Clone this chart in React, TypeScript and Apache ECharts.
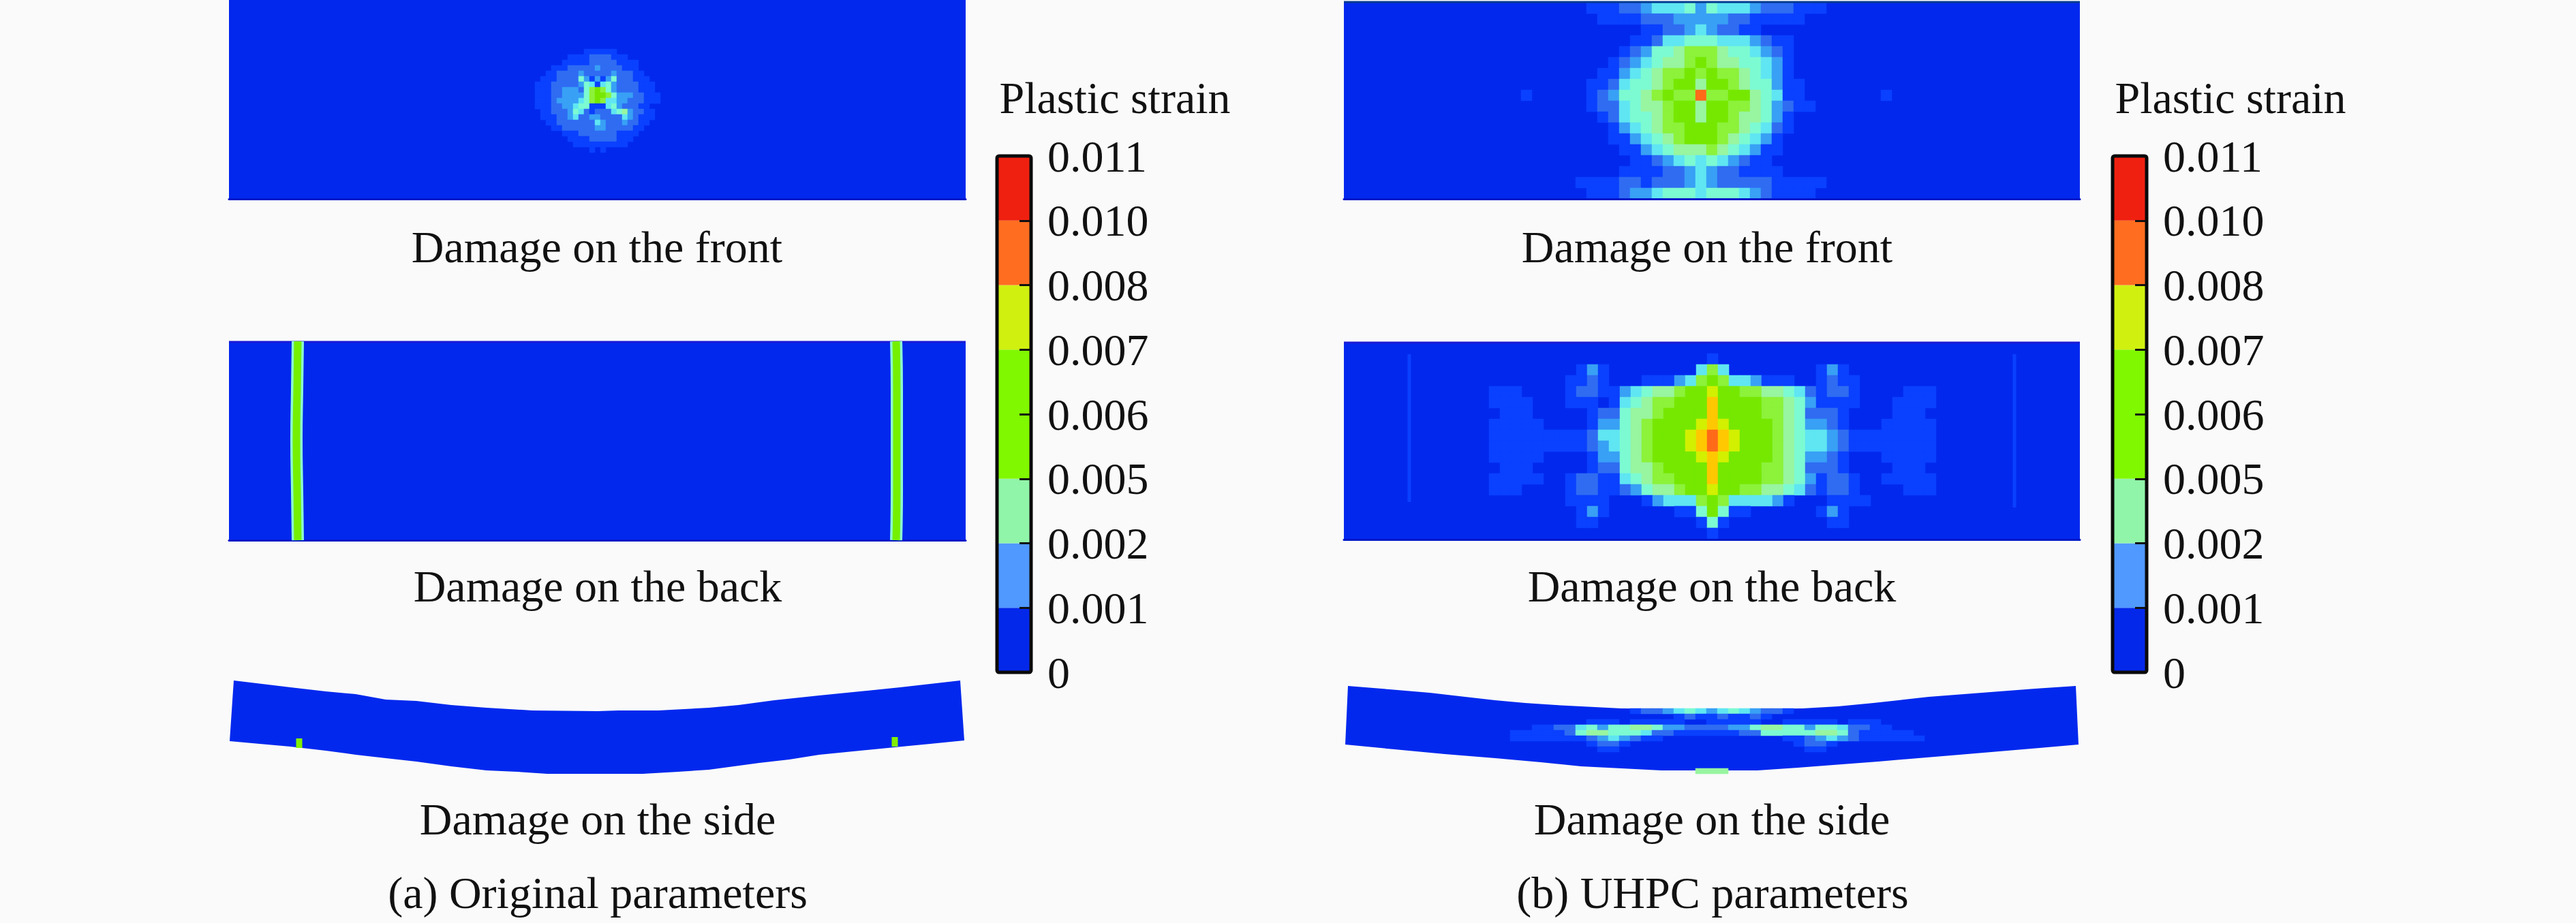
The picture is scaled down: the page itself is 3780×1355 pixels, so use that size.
import React, { useEffect, useRef } from "react";
import * as echarts from "echarts";

const FONT = "Liberation Serif";
const PAGE_BG = "#fafafa";
const BASE_BLUE = "#0228ee";

// ---------- strain levels (contour map keys) ----------
const LEVEL_KEYS = "abcdefghijkl";
const LEVEL_STRAIN = [0.0004, 0.0009, 0.0014, 0.0019, 0.0024, 0.0035, 0.0048, 0.0058, 0.0075, 0.0085, 0.0095, 0.0105];
const LEVEL_COLORS = ["#0a40ff", "#2f6cf2", "#38a0f5", "#5fe6f2", "#7cfad2", "#98f5a0", "#8cf23a", "#76e800", "#d2f000", "#ffc800", "#ff6a18", "#f02010"];

// ---------- colour bar ----------
const BAR_TICKS = ["0", "0.001", "0.002", "0.005", "0.006", "0.007", "0.008", "0.010", "0.011"];
const BAR_COLORS = ["#0428ea", "#5099ff", "#90f5a8", "#80f800", "#80f800", "#d0f010", "#ff6e20", "#f02010"];
const BAR_SPANS = [1, 1, 1, 1, 1, 1, 1, 1];
const LEGEND_TITLE = "Plastic strain";

// ---------- captions ----------
const CAPTION_FRONT = "Damage on the front";
const CAPTION_BACK = "Damage on the back";
const CAPTION_SIDE = "Damage on the side";
const CAPTION_A = "(a) Original parameters";
const CAPTION_B = "(b) UHPC parameters";

// ---------- field readings ----------
const FRONT_A = [
  "..........aaaaaa.........",
  ".......aaaabbbbaaa.......",
  "......aaaaabbbbbaaaa.....",
  "....aaabbbbbcbbbbaaa.....",
  "...aabbbbcbbbbbcbbbaa....",
  "..aaabbbbecacacebbbaaa...",
  ".aaabbbbbcedadecbbbbaaa..",
  ".aaabbcccbeghgecbbbbaaa..",
  ".aaabbcccceghhgecccbbaaa.",
  ".aaabccccdeghgddccbbbaaa.",
  ".aaabbccdeeaaadecbbbaa...",
  "..aabbbcedbabbbdefcbbaa..",
  "..aaabbcdbbccbbbbdcbaaa..",
  "...aabbbbbbbdcbbbcbbaa...",
  "....aabbbbbbccbbbbbaa....",
  "......aaabbbbbbbaaaa.....",
  ".......aaaabbbbbaaa......",
  "........aaaaaaaaaa.......",
  "...........a.a...........",
];

const FRONT_B = [
  "...aaabbcdddecedddcbbbaaa...",
  "....aaaabbbcccccbbaaaaa....",
  "........aabbcdcbbaa........",
  ".......aabddeeedddcbaa.....",
  "......abceefgggfeedcba.....",
  ".....abcdeffghgffeedca.....",
  "....aacdefgghghggfedca.....",
  "...aabdeefghhfhhgfeecaa....",
  ".a.....abceefghggkgghhfedaa.......a.",
  "...abbdeffghhfhhggfecbaa...",
  "....abdeefghhfhhgffeca.....",
  ".....acdefgghhhggfedba.....",
  ".....aacdefghhhgfedca......",
  "......aacdefffgfedcaa......",
  ".......aabcdededcbaa.......",
  "......aaaabbcdcbbaaaa......",
  "..aaaabbabbbcdcbbbbbaaaaa..",
  "...aaabccdeeedeeedcbaaaa...",
];

const BACK_B = [
  ".........................................",
  "....................a....................",
  "........aca........dgd........aca........",
  ".......aaba...aaacdghgddcaaa..abaa.......",
  "aaa....abbaacdeffghhihhggffedbabba....aaa",
  "aaaa...aaa.adefgghhhjhhhhggfecaaaa...aaaa",
  ".aaa.....abbeffghhhhjhhhhggfebbba....aaa.",
  "aaaaa....accefghhhhijihhhhgfeccba...aaaaa",
  "aaaaaaaaabddefghhhijkjihhhgfeddcbaaaaaaaa",
  "aaaaaaaaabcdefghhhijkjihhhgfeddcbaaaaaaaa",
  "aaaaa....accefghhhhijihhhhgfeccba...aaaaa",
  ".aaa.....abbeffghhhhjhhhhggfebbba....aaa.",
  "aaaaa..abbaadefgghhhjhhhhggfecabba..aaaaa",
  "aaa....abbaabceffghhihhggffedbabba....aaa",
  ".......aaaa...acdddghgddddca...aaaa......",
  "........aca......aaeheaa......aca........",
  "........aa.........aea.........aa........",
  "....................a....................",
];

const SIDE_B = [
  ".............abbcdedcdedcbba.............",
  ".................abaabaaba...............",
  ".........aaa.aaaaa..aaaaa..aaaaa.aaa.....",
  "....aabbdeceeffeccbbbbcceffeeceedbbaa....",
  "..aaaaabeffeeedbbaaaaaabbeeeeeffebaaaaa..",
  "..aaaaaaabcdcbaa...........aabcdcbaaaaaa.",
  ".........abba...............abba.........",
  "..........aa.................aa..........",
  ".........................................",
  ".........................................",
  ".........................................",
  "...................fff...................",
];

// Beam outlines: [position along the beam, height in the figure]
const SIDE_A_TOP = [[13, 9], [96, 19], [148, 25], [192, 29], [236, 37], [281, 39], [332, 45], [384, 49], [451, 53], [547, 54], [577, 53], [636, 53], [710, 49], [754, 45], [806, 38], [872, 31], [932, 25], [991, 19], [1079, 9]];
const SIDE_A_BOTTOM = [[7, 98], [51, 102], [96, 106], [148, 112], [192, 118], [236, 123], [281, 128], [332, 135], [384, 141], [429, 143], [473, 146], [613, 146], [665, 143], [710, 140], [784, 130], [828, 125], [872, 118], [932, 112], [983, 107], [1035, 102], [1085, 97]];
const SIDE_B_TOP = [[8, 17], [69, 22], [128, 27], [180, 33], [224, 38], [268, 42], [313, 45], [409, 50], [557, 51], [675, 50], [727, 47], [779, 42], [816, 38], [860, 33], [912, 29], [964, 25], [1016, 21], [1076, 17]];
const SIDE_B_BOTTOM = [[4, 103], [76, 110], [150, 117], [224, 123], [291, 129], [350, 135], [409, 138], [468, 141], [609, 141], [668, 137], [720, 133], [786, 128], [845, 123], [905, 118], [964, 113], [1023, 108], [1080, 103]];

// Crack traces
const BACK_A_CRACK_LEFT = [[101, 0], [100, 70], [99, 145], [100, 220], [101, 292]];
const BACK_A_CRACK_RIGHT = [[979, 0], [980, 70], [980, 145], [980, 220], [979, 292]];
const SIDE_A_CRACK_LEFT = [[109, 94], [109, 108]];
const SIDE_A_CRACK_RIGHT = [[983, 92], [983, 106]];
const BACK_B_FAINT_LEFT = [[96, 18], [96, 235]];
const BACK_B_FAINT_RIGHT = [[984, 18], [984, 243]];

// Darker edges along the tops of the panels
const EDGE_FRONT_B = [[0, 1], [1080, 1]];
const EDGE_BACK_A = [[0, 1], [1081, 1]];
const EDGE_BACK_B = [[0, 1], [1080, 1]];

// ---------- option building ----------
function buildOption() {
  const grid: any[] = [];
  const xAxis: any[] = [];
  const yAxis: any[] = [];
  const series: any[] = [];
  const heatIdx: number[] = [];

  const addPanel = (left: number, top: number, width: number, height: number, lines: { pts: number[][]; color: string; w: number }[]) => {
    const i = grid.length;
    grid.push({ left, top, width, height, show: true, backgroundColor: BASE_BLUE, borderWidth: 0 });
    xAxis.push({
      type: "value", gridIndex: i, min: 0, max: width, z: 3,
      axisLine: { show: true, onZero: false, lineStyle: { color: "#0018c8", width: 3 } },
      axisTick: { show: false }, axisLabel: { show: false }, splitLine: { show: false },
    });
    yAxis.push({ type: "value", gridIndex: i, min: 0, max: height, inverse: true, show: false, splitLine: { show: false } });
    lines.forEach((l) =>
      series.push({
        type: "line", xAxisIndex: i, yAxisIndex: i, data: l.pts, showSymbol: false, smooth: true, silent: true,
        lineStyle: { color: l.color, width: l.w, cap: "butt" }, z: 4,
      })
    );
  };

  const addField = (left: number, top: number, cellW: number, cellH: number, rows: string[]) => {
    const cols = Math.max(...rows.map((r) => r.length));
    const i = grid.length;
    grid.push({ left, top, width: cols * cellW, height: rows.length * cellH });
    xAxis.push({ type: "category", gridIndex: i, show: false, data: Array.from({ length: cols }, (_, k) => k) });
    yAxis.push({ type: "category", gridIndex: i, show: false, inverse: true, data: rows.map((_, k) => k) });
    const data: number[][] = [];
    rows.forEach((row, r) => {
      const pad = Math.floor((cols - row.length) / 2);
      for (let c = 0; c < row.length; c++) {
        const lv = LEVEL_KEYS.indexOf(row[c]);
        if (lv >= 0) data.push([c + pad, r, LEVEL_STRAIN[lv]]);
      }
    });
    heatIdx.push(series.length);
    series.push({ type: "heatmap", xAxisIndex: i, yAxisIndex: i, data, silent: true, z: 3, progressive: 0 });
  };

  const addBeam = (left: number, top: number, topEdge: number[][], bottomEdge: number[][], lines: { pts: number[][]; color: string; w: number }[]) => {
    const i = grid.length;
    grid.push({ left, top, width: 1090, height: 155 });
    xAxis.push({ type: "value", gridIndex: i, min: 0, max: 1090, show: false, splitLine: { show: false } });
    yAxis.push({ type: "value", gridIndex: i, min: 0, max: 155, inverse: true, show: false, splitLine: { show: false } });
    const outline = [...topEdge, ...[...bottomEdge].reverse()];
    series.push({
      type: "custom", xAxisIndex: i, yAxisIndex: i, silent: true, data: [[0, 0]], z: 2, clip: false,
      renderItem: (_p: any, api: any) => ({
        type: "polygon",
        shape: { points: outline.map((p) => api.coord(p)) },
        style: { fill: BASE_BLUE },
      }),
    });
    lines.forEach((l) =>
      series.push({
        type: "line", xAxisIndex: i, yAxisIndex: i, data: l.pts, showSymbol: false, silent: true,
        lineStyle: { color: l.color, width: l.w, cap: "butt" }, z: 4,
      })
    );
  };

  const addLegend = (left: number) => {
    const i = grid.length;
    grid.push({ left, top: 229, width: 50, height: 758 });
    xAxis.push({ type: "category", gridIndex: i, show: false, data: ["strain"] });
    yAxis.push({
      type: "value", gridIndex: i, min: 0, max: 8, interval: 1, position: "right", z: 6,
      axisLine: { show: false },
      axisTick: { show: true, inside: true, length: 17, lineStyle: { color: "#111", width: 3 } },
      splitLine: { show: false },
      axisLabel: {
        show: true, margin: 24, color: "#111", fontFamily: FONT, fontSize: 66, hideOverlap: false,
        showMinLabel: true, showMaxLabel: true, align: "left", verticalAlign: "middle",
        formatter: (v: number) => BAR_TICKS[Math.round(v)],
      },
    });
    BAR_SPANS.forEach((span, k) =>
      series.push({
        type: "bar", xAxisIndex: i, yAxisIndex: i, stack: `bar${i}`, data: [span], barWidth: "100%", silent: true,
        itemStyle: { color: BAR_COLORS[k] }, z: 2,
      })
    );
  };

  // Column (a)
  addPanel(336, 0, 1081, 292, []);
  addField(777, 72, 8, 8, FRONT_A);
  addPanel(336, 501, 1081, 292, [
    { pts: EDGE_BACK_A, color: "#1a1ad8", w: 3 },
    { pts: BACK_A_CRACK_LEFT, color: "#8cf8d0", w: 18 },
    { pts: BACK_A_CRACK_RIGHT, color: "#8cf8d0", w: 18 },
    { pts: BACK_A_CRACK_LEFT, color: "#74f000", w: 11 },
    { pts: BACK_A_CRACK_RIGHT, color: "#74f000", w: 11 },
  ]);
  addBeam(330, 990, SIDE_A_TOP, SIDE_A_BOTTOM, [
    { pts: SIDE_A_CRACK_LEFT, color: "#80f000", w: 9 },
    { pts: SIDE_A_CRACK_RIGHT, color: "#80f000", w: 9 },
  ]);
  addLegend(1463);

  // Column (b)
  addPanel(1972, 2, 1080, 290, [{ pts: EDGE_FRONT_B, color: "#003a90", w: 3 }]);
  addField(2216, 4, 16, 16, FRONT_B);
  addPanel(1972, 502, 1080, 290, [
    { pts: EDGE_BACK_B, color: "#1a1ad8", w: 3 },
    { pts: BACK_B_FAINT_LEFT, color: "#0a40ff", w: 5 },
    { pts: BACK_B_FAINT_RIGHT, color: "#0a40ff", w: 5 },
  ]);
  addField(2185, 503, 16, 16, BACK_B);
  addBeam(1970, 990, SIDE_B_TOP, SIDE_B_BOTTOM, []);
  addField(2184, 1040, 16, 8, SIDE_B);
  addLegend(3100);

  const text = (s: string, x: number, baseline: number) => ({
    type: "text", x, y: baseline, silent: true, z: 10,
    style: { text: s, fill: "#111", fontFamily: FONT, fontSize: 66, align: "center", verticalAlign: "bottom", lineHeight: 80 },
  });
  const frame = (x: number) => ({
    type: "rect", x, y: 229, silent: true, z: 9,
    shape: { width: 50, height: 758, r: 3 },
    style: { fill: "none", stroke: "#0a0a0a", lineWidth: 5 },
  });

  const graphic = [
    text(CAPTION_FRONT, 876, 402),
    text(CAPTION_BACK, 877, 900),
    text(CAPTION_SIDE, 877, 1242),
    text(CAPTION_A, 877, 1350),
    text(CAPTION_FRONT, 2505, 402),
    text(CAPTION_BACK, 2512, 900),
    text(CAPTION_SIDE, 2512, 1242),
    text(CAPTION_B, 2513, 1350),
    text(LEGEND_TITLE, 1636, 183),
    text(LEGEND_TITLE, 3273, 183),
    frame(1463),
    frame(3100),
  ];

  return {
    animation: false,
    backgroundColor: PAGE_BG,
    grid, xAxis, yAxis, series, graphic,
    visualMap: {
      type: "piecewise", show: false, seriesIndex: heatIdx, dimension: 2,
      pieces: LEVEL_STRAIN.map((v, k) => ({ value: v, color: LEVEL_COLORS[k] })),
    },
  };
}

export default function App() {
  const ref = useRef<HTMLDivElement>(null);
  useEffect(() => {
    document.body.style.margin = "0";
    document.body.style.background = PAGE_BG;
    const chart = echarts.init(ref.current!, null, { renderer: "svg" });
    chart.setOption(buildOption() as any);
    return () => chart.dispose();
  }, []);
  return <div ref={ref} style={{ width: 3780, height: 1355 }} />;
}
